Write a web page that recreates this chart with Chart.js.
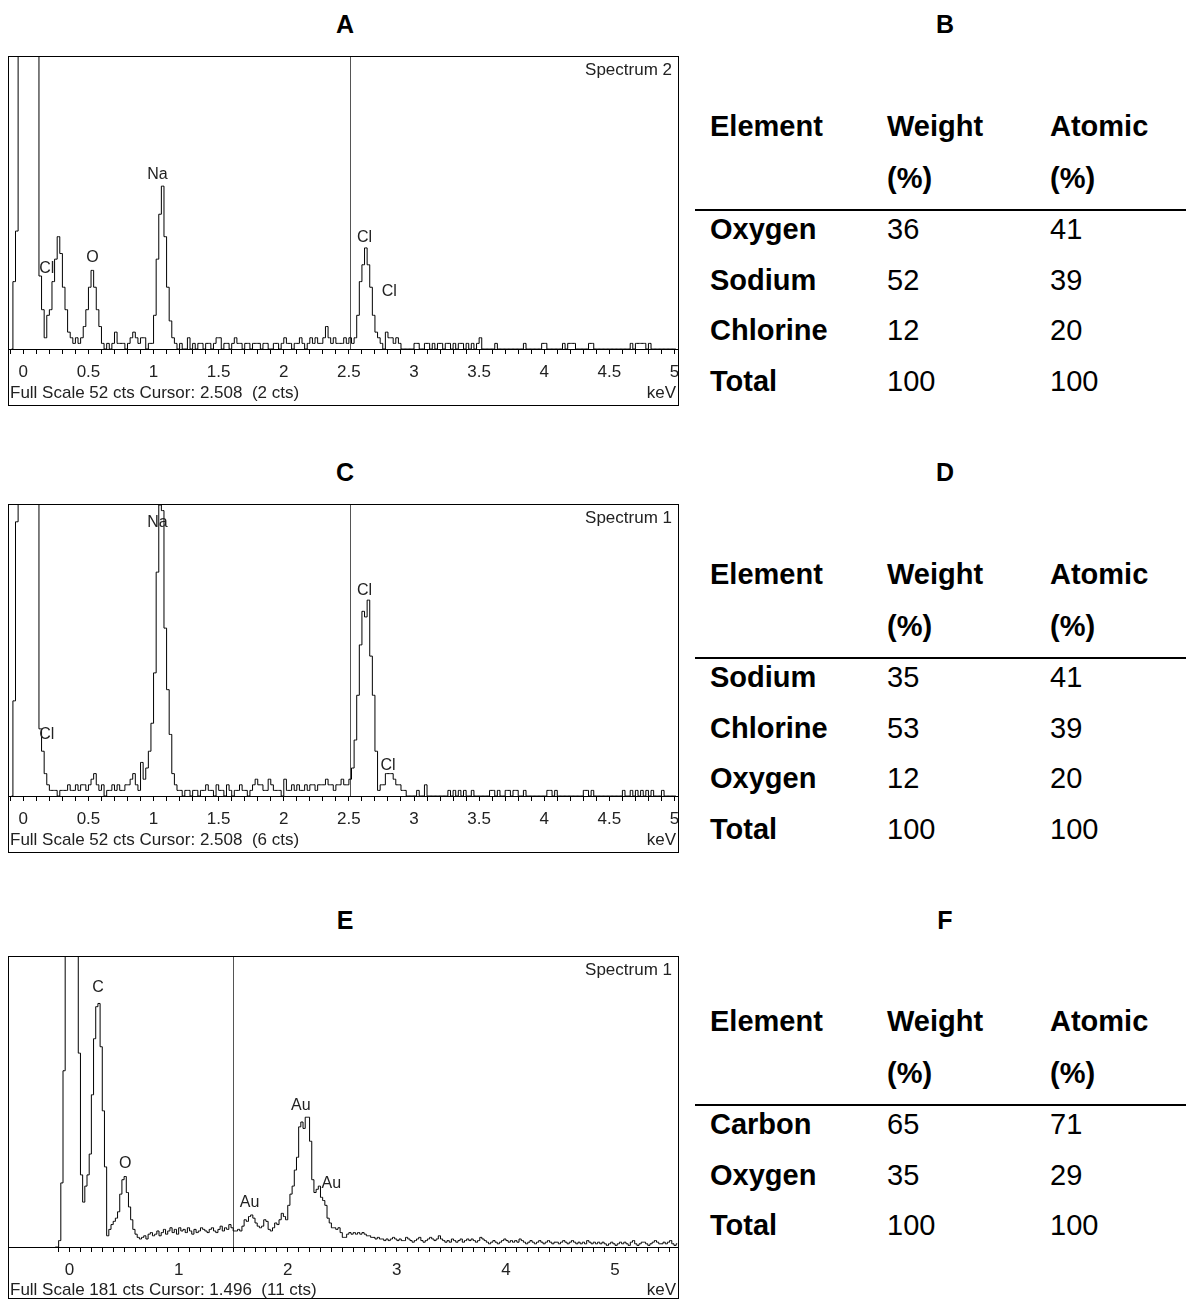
<!doctype html>
<html lang="en">
<head>
<meta charset="utf-8">
<script src="https://cdn.jsdelivr.net/npm/chart.js@4.4.1/dist/chart.umd.min.js"></script>
<title>EDS spectra</title>
<style>
    body { margin: 0; background: #fff; font-family: "Liberation Sans", Arial, sans-serif; }
    #page { position: relative; width: 1186px; height: 1299px; overflow: hidden; }
    .title { position: absolute; font-weight: bold; font-size: 25px; transform: translate(-50%, -50%); }
    .box { position: absolute; left: 8px; width: 669px; border: 1px solid #000; }
    .box canvas { display: block; }
    .cell { position: absolute; font-size: 29px; transform: translateY(-50%); white-space: nowrap; }
    .bold { font-weight: bold; }
    .rule { position: absolute; left: 695px; width: 491px; height: 2px; background: #000; }
</style>
</head>
<body>
<div id="page"></div>

<script>
    // counts per 20 eV channel, first value is the channel centred on start (keV)
    const channelWidth = 0.02;

    const startA = -0.09;
    const countsA = [
        0, 12, 21, 300, 300, 300, 300, 300, 300, 300,
        300, 13, 7, 2, 6, 7, 12, 16, 20, 17,
        11, 7, 3, 2, 1, 2, 1, 2, 4, 7,
        11, 14, 11, 7, 4, 1, 0, 1, 0, 1,
        3, 1, 1, 1, 0, 1, 2, 3, 2, 1,
        2, 2, 0, 1, 1, 6, 16, 24, 29, 20,
        11, 5, 2, 1, 0, 1, 0, 0, 2, 0,
        1, 0, 1, 1, 0, 1, 1, 0, 1, 2,
        2, 0, 1, 1, 0, 1, 2, 1, 1, 0,
        1, 1, 0, 1, 1, 1, 0, 1, 1, 0,
        0, 1, 1, 0, 1, 2, 1, 1, 0, 1,
        1, 2, 1, 0, 1, 2, 1, 2, 1, 1,
        2, 4, 2, 1, 2, 1, 1, 1, 2, 1,
        2, 1, 2, 6, 12, 15, 18, 15, 11, 6,
        3, 2, 1, 0, 3, 2, 2, 1, 2, 1,
        0, 0, 0, 0, 0, 1, 1, 0, 0, 1,
        1, 0, 1, 0, 1, 1, 0, 1, 1, 0,
        1, 0, 1, 1, 0, 1, 0, 1, 0, 1,
        2, 0, 0, 0, 0, 0, 1, 0, 0, 0,
        0, 0, 0, 0, 0, 0, 0, 1, 0, 0,
        0, 0, 0, 0, 1, 1, 0, 0, 0, 0,
        0, 0, 1, 0, 1, 1, 1, 0, 0, 0,
        0, 0, 1, 1, 0, 0, 0, 0, 0, 0,
        0, 0, 0, 0, 0, 0, 0, 0, 1, 0,
        1, 1, 1, 1, 0, 1, 0, 0, 0, 0,
        0, 0, 0, 0, 0, 0
    ];

    const startC = -0.09;
    const countsC = [
        0, 17, 49, 300, 300, 300, 300, 300, 300, 300,
        300, 12, 8, 4, 2, 1, 1, 1, 0, 1,
        1, 1, 2, 1, 1, 2, 1, 2, 2, 1,
        2, 3, 4, 2, 1, 2, 0, 1, 1, 2,
        1, 2, 1, 1, 2, 2, 3, 4, 2, 1,
        6, 3, 5, 8, 13, 22, 40, 52, 51, 30,
        19, 11, 4, 2, 1, 1, 0, 1, 1, 0,
        1, 1, 0, 1, 1, 2, 1, 1, 0, 2,
        1, 1, 0, 2, 1, 0, 1, 1, 2, 1,
        1, 0, 1, 2, 3, 2, 2, 1, 1, 3,
        2, 1, 1, 1, 0, 3, 1, 1, 2, 1,
        2, 1, 1, 2, 1, 2, 2, 1, 2, 2,
        2, 3, 2, 2, 1, 2, 2, 3, 2, 2,
        3, 5, 10, 18, 27, 33, 32, 35, 25, 18,
        8, 1, 2, 2, 4, 4, 4, 3, 2, 2,
        1, 1, 0, 0, 0, 0, 1, 0, 0, 2,
        0, 0, 0, 0, 0, 0, 0, 0, 1, 0,
        1, 0, 1, 0, 1, 0, 0, 1, 0, 0,
        0, 0, 0, 0, 1, 1, 0, 1, 0, 0,
        1, 1, 0, 1, 1, 0, 0, 1, 0, 0,
        0, 0, 0, 0, 0, 0, 1, 1, 0, 1,
        0, 0, 0, 0, 0, 0, 0, 0, 0, 0,
        1, 1, 0, 1, 0, 0, 0, 0, 0, 0,
        0, 0, 0, 0, 0, 1, 0, 0, 1, 0,
        1, 0, 1, 0, 1, 0, 1, 0, 0, 0,
        1, 0, 0, 0, 0, 0
    ];

    const startE = -0.13;
    const countsE = [
        0, 0, 4, 40, 110, 400, 400, 400, 400, 400,
        400, 121, 45, 28, 38, 45, 58, 95, 130, 150,
        152, 125, 85, 50, 7, 11, 14, 16, 18, 22,
        33, 42, 44, 34, 25, 17, 11, 8, 6, 5,
        6, 7, 5, 8, 9, 7, 8, 10, 7, 9,
        11, 8, 10, 12, 9, 11, 8, 12, 10, 11,
        9, 12, 10, 8, 11, 9, 10, 12, 11, 10,
        9, 11, 12, 10, 9, 11, 13, 10, 12, 11,
        14, 12, 10, 10, 11, 10, 13, 17, 16, 19,
        20, 18, 15, 13, 12, 13, 17, 16, 11, 10,
        12, 15, 14, 17, 21, 19, 17, 26, 33, 38,
        48, 56, 75, 78, 74, 81, 81, 66, 42, 34,
        36, 38, 31, 29, 26, 18, 15, 12, 12, 11,
        12, 9, 6, 6, 8, 9, 8, 9, 8, 9,
        8, 9, 8, 7, 7, 6, 6, 5, 6, 5,
        5, 4, 5, 4, 5, 6, 5, 4, 5, 4,
        4, 6, 5, 4, 3, 4, 5, 6, 4, 3,
        4, 5, 6, 5, 4, 5, 7, 5, 4, 3,
        4, 3, 5, 4, 3, 4, 5, 3, 4, 5,
        4, 5, 4, 3, 4, 6, 5, 4, 3, 2,
        3, 4, 3, 2, 3, 4, 5, 4, 3, 4,
        3, 4, 3, 5, 4, 3, 2, 3, 4, 3,
        2, 3, 4, 3, 2, 3, 4, 3, 2, 3,
        3, 2, 3, 4, 3, 2, 3, 4, 3, 2,
        3, 2, 3, 2, 4, 3, 2, 3, 2, 3,
        2, 3, 2, 1, 2, 3, 2, 1, 2, 3,
        2, 3, 2, 1, 3, 4, 2, 1, 2, 3,
        3, 2, 1, 2, 3, 4, 3, 2, 2, 3,
        2, 3, 4, 2, 1, 2
    ];

    // peak labels: [text, keV, cts]
    const peaksA = [['Cl', 0.18, 14.4], ['O', 0.53, 16.2], ['Na', 1.03, 31], ['Cl', 2.62, 19.9], ['Cl', 2.81, 10.3]];
    const peaksC = [['Cl', 0.18, 10.9], ['Na', 1.03, 48.9], ['Cl', 2.62, 36.7], ['Cl', 2.8, 5.4]];
    const peaksE = [['C', 0.26, 162], ['O', 0.51, 52], ['Au', 1.65, 28], ['Au', 2.12, 88], ['Au', 2.4, 39.6]];

    const elementsB = ['Oxygen', 'Sodium', 'Chlorine', 'Total'];
    const weightB = [36, 52, 12, 100];
    const atomicB = [41, 39, 20, 100];

    const elementsD = ['Sodium', 'Chlorine', 'Oxygen', 'Total'];
    const weightD = [35, 53, 12, 100];
    const atomicD = [41, 39, 20, 100];

    const elementsF = ['Carbon', 'Oxygen', 'Total'];
    const weightF = [65, 35, 100];
    const atomicF = [71, 29, 100];

    const page = document.getElementById('page');
    const textFont = '17px "Liberation Sans", Arial, sans-serif';

    function addTitle(text, x, y) {
        const d = document.createElement('div');
        d.className = 'title';
        d.style.left = x + 'px';
        d.style.top = y + 'px';
        d.textContent = text;
        page.appendChild(d);
    }

    function addCell(text, x, y, bold) {
        const d = document.createElement('div');
        d.className = bold ? 'cell bold' : 'cell';
        d.style.left = x + 'px';
        d.style.top = y + 'px';
        d.textContent = text;
        page.appendChild(d);
    }

    function table(top, elements, weight, atomic) {
        const cols = [710, 887, 1050];
        addCell('Element', cols[0], top, true);
        addCell('Weight', cols[1], top, true);
        addCell('Atomic', cols[2], top, true);
        addCell('(%)', cols[1], top + 52, true);
        addCell('(%)', cols[2], top + 52, true);
        const rule = document.createElement('div');
        rule.className = 'rule';
        rule.style.top = (top + 83) + 'px';
        page.appendChild(rule);
        elements.forEach((el, i) => {
            const y = top + 103 + i * 50.5;
            addCell(el, cols[0], y, true);
            addCell(String(weight[i]), cols[1], y, false);
            addCell(String(atomic[i]), cols[2], y, false);
        });
    }

    function spectrum(o) {
        const box = document.createElement('div');
        box.className = 'box';
        box.style.top = (o.top - 1) + 'px';
        box.style.height = o.height + 'px';
        const canvas = document.createElement('canvas');
        canvas.width = 669;
        canvas.height = o.height;
        box.appendChild(canvas);
        page.appendChild(box);

        const points = o.counts.map((c, i) => ({x: +(o.start + i * channelWidth).toFixed(2), y: c}));
        const tickValues = [];
        for (let i = -1; i <= Math.round(o.lastTick * 10); i++) tickValues.push(i / 10);

        const overlay = {
            id: 'overlay',
            beforeDatasetsDraw(chart) {
                const {ctx, chartArea} = chart;
                const x = Math.round(chart.scales.x.getPixelForValue(o.cursor)) + 0.5;
                ctx.save();
                ctx.strokeStyle = '#555';
                ctx.lineWidth = 1;
                ctx.beginPath();
                ctx.moveTo(x, chartArea.top);
                ctx.lineTo(x, chartArea.bottom);
                ctx.stroke();
                ctx.restore();
            },
            afterDraw(chart) {
                const {ctx, chartArea, width} = chart;
                const xs = chart.scales.x, ys = chart.scales.y;
                ctx.save();
                ctx.fillStyle = '#222';
                ctx.textBaseline = 'middle';
                ctx.font = '16px "Liberation Sans", Arial, sans-serif';
                ctx.textAlign = 'center';
                o.peaks.forEach(p => ctx.fillText(p[0], xs.getPixelForValue(p[1]), ys.getPixelForValue(p[2])));
                ctx.font = textFont;
                ctx.textAlign = 'right';
                ctx.fillText(o.name, width - 6, 13);
                ctx.fillText('keV', width - 2, chartArea.bottom + o.footGap);
                ctx.textAlign = 'left';
                ctx.fillText(o.footer, 1, chartArea.bottom + o.footGap);
                ctx.restore();
            }
        };

        new Chart(canvas, {
            type: 'line',
            data: {
                datasets: [{
                    data: points,
                    borderColor: '#000',
                    borderWidth: 1,
                    pointRadius: 0,
                    stepped: 'middle',
                    fill: false
                }]
            },
            options: {
                responsive: false,
                animation: false,
                devicePixelRatio: 1,
                events: [],
                layout: {padding: 0},
                plugins: {legend: {display: false}, tooltip: {enabled: false}},
                scales: {
                    x: {
                        type: 'linear',
                        min: o.min,
                        max: o.max,
                        afterBuildTicks: s => { s.ticks = tickValues.map(v => ({value: v})); },
                        afterFit: s => {
                            s.height = o.height - o.plot;
                            s.paddingLeft = 0;
                            s.paddingRight = 0;
                        },
                        grid: {drawOnChartArea: false, tickLength: 5, tickColor: '#000'},
                        border: {display: true, color: '#000', width: 1},
                        ticks: {
                            autoSkip: false,
                            maxRotation: 0,
                            padding: 8,
                            color: '#222',
                            font: {family: '"Liberation Sans", Arial, sans-serif', size: 17},
                            callback: v => {
                                const r = v / o.labelStep;
                                return v >= 0 && Math.abs(r - Math.round(r)) < 1e-6 ? String(+v.toFixed(1)) : '';
                            }
                        }
                    },
                    y: {display: false, min: 0, max: o.fullScale}
                }
            },
            plugins: [overlay]
        });
    }

    addTitle('A', 345, 24);
    addTitle('B', 945, 24);
    addTitle('C', 345, 472);
    addTitle('D', 945, 472);
    addTitle('E', 345, 920);
    addTitle('F', 945, 920);

    spectrum({
        top: 57, height: 348, plot: 292, min: -0.11, max: 5.027, lastTick: 5, labelStep: 0.5,
        counts: countsA, start: startA, fullScale: 52, cursor: 2.508, peaks: peaksA,
        name: 'Spectrum 2', footer: 'Full Scale 52 cts Cursor: 2.508  (2 cts)', footGap: 44
    });
    spectrum({
        top: 505, height: 347, plot: 291, min: -0.11, max: 5.027, lastTick: 5, labelStep: 0.5,
        counts: countsC, start: startC, fullScale: 52, cursor: 2.508, peaks: peaksC,
        name: 'Spectrum 1', footer: 'Full Scale 52 cts Cursor: 2.508  (6 cts)', footGap: 44
    });
    spectrum({
        top: 957, height: 341, plot: 290, min: -0.555, max: 5.577, lastTick: 5.5, labelStep: 1,
        counts: countsE, start: startE, fullScale: 181, cursor: 1.496, peaks: peaksE,
        name: 'Spectrum 1', footer: 'Full Scale 181 cts Cursor: 1.496  (11 cts)', footGap: 43
    });

    table(126, elementsB, weightB, atomicB);
    table(574, elementsD, weightD, atomicD);
    table(1021, elementsF, weightF, atomicF);
</script>
</body>
</html>
